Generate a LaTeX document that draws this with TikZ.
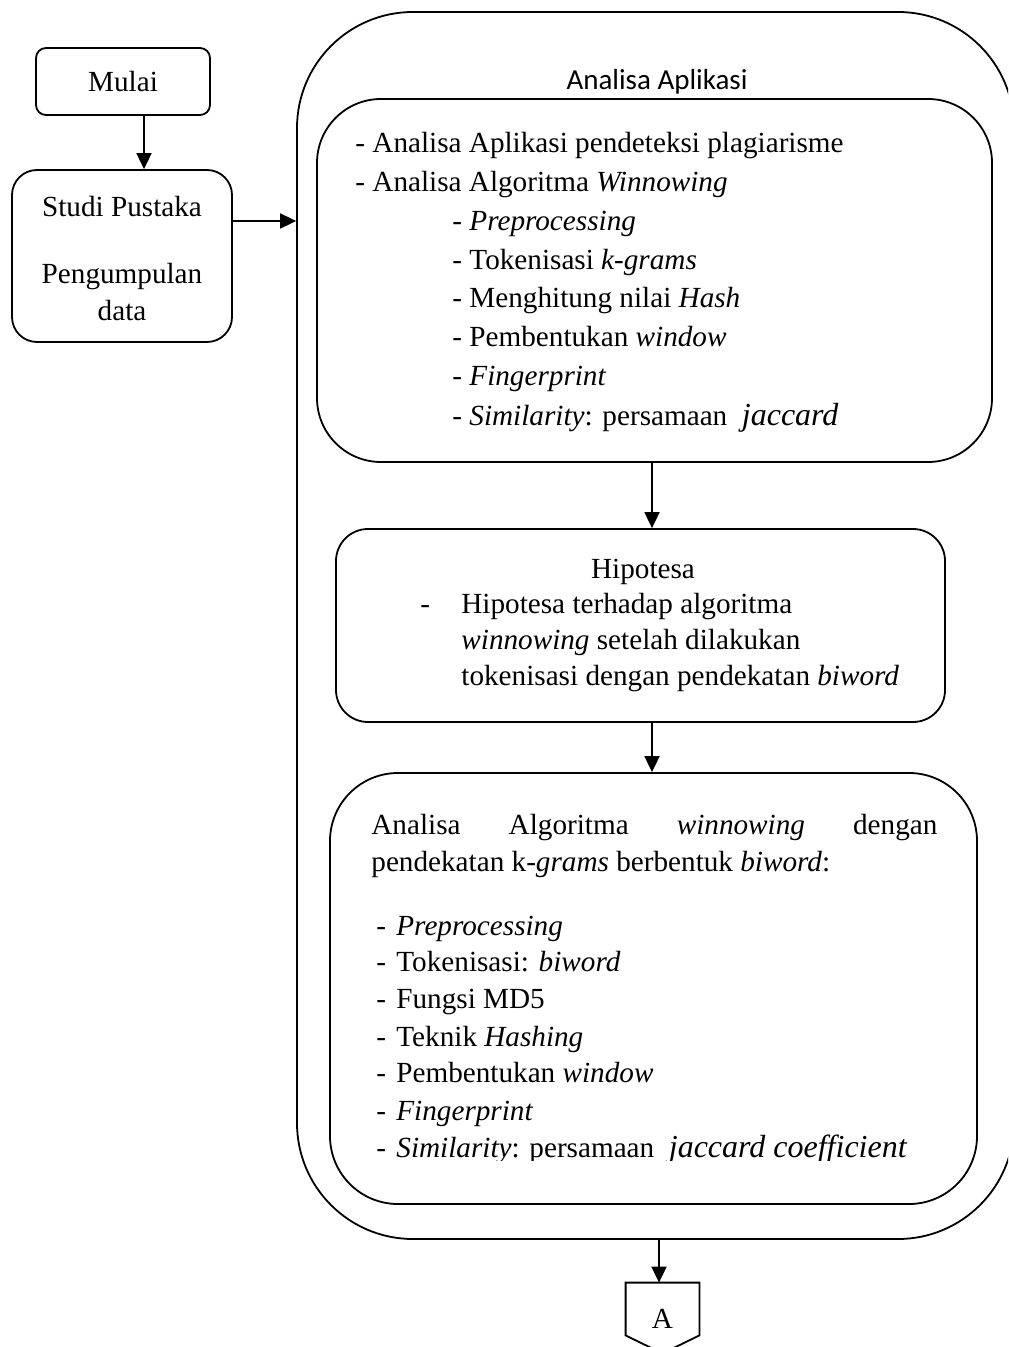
\documentclass[tikz,border=0pt]{standalone}
\usepackage{fontspec}
\setmainfont{Liberation Serif}
\newfontfamily\calibrifont{Carlito}
\usetikzlibrary{arrows.meta,fit,calc}

\begin{document}
\begin{tikzpicture}[x=0.5pt,y=-0.5pt,
  rbox/.style={draw, line width=0.9pt, inner sep=0pt},
  txt/.style={font=\fontsize{14.6}{17.5}\selectfont, inner sep=0pt, anchor=base west},
  ctxt/.style={font=\fontsize{14.6}{17.5}\selectfont, inner sep=0pt, anchor=base},
  arr/.style={-{Triangle[length=8pt,width=7.5pt]}, line width=0.9pt}
]
\useasboundingbox (0,0) rectangle (1008,1347);
\clip (0,0) rectangle (1008,1347);

% start and literature study
\node[rbox, rounded corners=5pt, minimum width=87pt, minimum height=33.5pt,
      font=\fontsize{14.6}{17.5}\selectfont] (mulai) at (123,81.5) {Mulai};
\node[rbox, rounded corners=12.5pt, fit={(12,170)(232,342)}] (studi) {};
\node[ctxt] (studi1) at (122,217) {Studi Pustaka};
\node[ctxt] (studi2) at (122,284) {Pengumpulan};
\node[ctxt] (studi3) at (122,321) {data};

% application analysis frame
\node[rbox, rounded corners=58pt, fit={(297,12)(1014,1239)}] (outer) {};
\node[font=\calibrifont\fontsize{14.5}{17}\selectfont, anchor=base, inner sep=0pt]
      (outerT) at (657,90) {Analisa Aplikasi};

% first analysis block
\node[rbox, rounded corners=32pt, fit={(317,99)(992,462)}] (kaji) {};
\node[txt] (k1) at (355,153) {- Analisa Aplikasi pendeteksi plagiarisme};
\node[txt] (k2) at (355,192) {- Analisa Algoritma \textit{Winnowing}};
\node[txt] (k3) at (452,231) {- \textit{Preprocessing}};
\node[txt] (k4) at (452,270) {- Tokenisasi \textit{k-grams}};
\node[txt] (k5) at (452,308) {- Menghitung nilai \textit{Hash}};
\node[txt] (k6) at (452,347) {- Pembentukan \textit{window}};
\node[txt] (k7) at (452,386) {- \textit{Fingerprint}};
\node[txt] (k8) at (452,426) {- \textit{Similarity}: persamaan\ \ {\fontsize{16}{19}\selectfont\textit{jaccard}}};

% hypothesis
\node[rbox, rounded corners=16pt, fit={(336,529)(945,722)}] (hipo) {};
\node[ctxt] (h0) at (643,578) {Hipotesa};
\node[txt] (h1) at (420,613) {\makebox[20.5pt][l]{-}Hipotesa terhadap algoritma};
\node[txt] (h2) at (461,649) {\textit{winnowing} setelah dilakukan};
\node[txt] (h3) at (461,685) {tokenisasi dengan pendekatan \textit{biword}};

% winnowing with biword
\node[rbox, rounded corners=34pt, fit={(330,773)(977,1204)}] (winbw) {};
\node[txt] (w1) at (371,834) {\makebox[283pt][s]{Analisa\hfill Algoritma\hfill\textit{winnowing}\hfill dengan}};
\node[txt] (w2) at (371,871) {pendekatan k-\textit{grams} berbentuk \textit{biword}:};
\node[txt] (w3) at (376,935) {\makebox[10pt][l]{-}\textit{Preprocessing}};
\node[txt] (w4) at (376,971) {\makebox[10pt][l]{-}Tokenisasi: \textit{biword}};
\node[txt] (w5) at (376,1008) {\makebox[10pt][l]{-}Fungsi MD5};
\node[txt] (w6) at (376,1046) {\makebox[10pt][l]{-}Teknik \textit{Hashing}};
\node[txt] (w7) at (376,1082) {\makebox[10pt][l]{-}Pembentukan \textit{window}};
\node[txt] (w8) at (376,1120) {\makebox[10pt][l]{-}\textit{Fingerprint}};
\begin{scope}
  \clip (360,1125) rectangle (990,1160);
  \node[txt] (w9) at (376,1157) {\makebox[10pt][l]{-}\textit{Similarity}: persamaan\ \ {\fontsize{16}{19}\selectfont\textit{jaccard coefficient}}};
\end{scope}

% off-page connector
\node[minimum width=36.5pt, minimum height=26pt, inner sep=0pt] (conA) at (662.5,1309) {};
\draw[line width=0.9pt] (conA.north west) -- (conA.north east) -- (conA.south east)
  -- ([yshift=-9pt]conA.south) -- (conA.south west) -- cycle;
\node[ctxt] (Atxt) at (662.5,1328) {A};

% connectors
\coordinate (spine) at (652,0);
\coordinate (spineA) at (659,0);
\draw[arr] ([xshift=10.5pt]mulai.south) -- ([xshift=10.5pt]mulai.south |- studi.north);
\draw[arr] ([yshift=17.5pt]studi.east) -- ([yshift=17.5pt]studi.east -| outer.west);
\draw[arr] (kaji.south -| spine) -- (hipo.north -| spine);
\draw[arr] (hipo.south -| spine) -- (winbw.north -| spine);
\draw[arr] (outer.south -| spineA) -- (conA.north -| spineA);
\end{tikzpicture}
\end{document}
